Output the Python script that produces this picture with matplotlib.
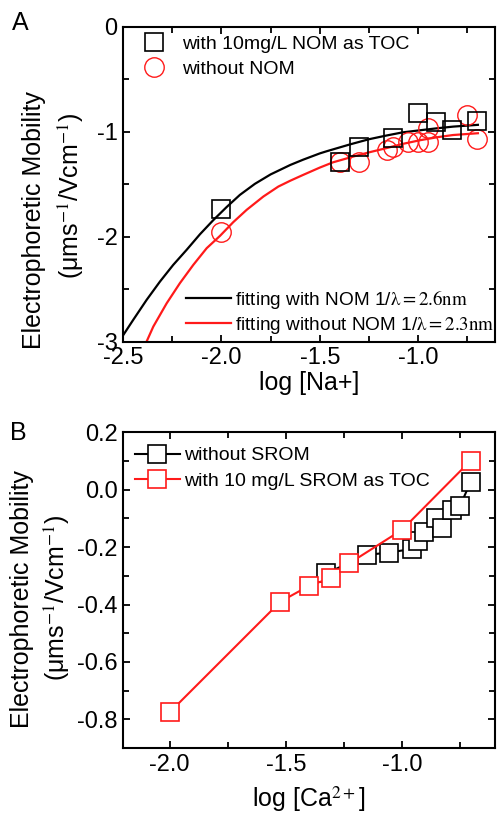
import matplotlib
matplotlib.use("Agg")
import matplotlib.pyplot as plt
from matplotlib.ticker import MultipleLocator
from matplotlib.lines import Line2D

plt.rcParams["font.family"] = ["Liberation Sans", "DejaVu Sans"]
plt.rcParams["mathtext.fontset"] = "stix"
plt.rcParams["axes.unicode_minus"] = False

# ---- panel A data: log[Na+] vs mobility
na_nom_x = [-2.0, -1.40, -1.30, -1.13, -1.00, -0.91, -0.83, -0.70]
na_nom_y = [-1.73, -1.29, -1.14, -1.06, -0.82, -0.91, -0.98, -0.90]
na_plain_x = [-2.0, -1.40, -1.30, -1.16, -1.13, -1.05, -1.00, -0.95, -0.95, -0.75, -0.70]
na_plain_y = [-1.95, -1.29, -1.29, -1.17, -1.14, -1.10, -1.10, -1.10, -0.96, -0.84, -1.07]

# fitted curves
fit_nom_x = [-2.498, -2.448, -2.380, -2.312, -2.245, -2.177, -2.109, -2.041, -1.973,
             -1.906, -1.830, -1.750, -1.650, -1.585, -1.500, -1.466, -1.348, -1.250,
             -1.162, -1.080, -0.992, -0.900, -0.823, -0.697]
fit_nom_y = [-2.933, -2.790, -2.600, -2.425, -2.267, -2.124, -1.975, -1.840, -1.715,
             -1.600, -1.495, -1.405, -1.315, -1.265, -1.205, -1.185, -1.120, -1.070,
             -1.035, -1.005, -0.985, -0.965, -0.950, -0.933]
fit_plain_x = [-2.388, -2.346, -2.278, -2.211, -2.143, -2.075, -2.007, -1.940, -1.872,
               -1.787, -1.711, -1.650, -1.585, -1.500, -1.433, -1.330, -1.250, -1.162,
               -1.080, -0.992, -0.900, -0.823, -0.697]
fit_plain_y = [-3.030, -2.854, -2.632, -2.441, -2.267, -2.108, -1.990, -1.860, -1.743,
               -1.616, -1.521, -1.465, -1.410, -1.340, -1.290, -1.235, -1.195, -1.155,
               -1.115, -1.080, -1.050, -1.030, -1.013]

# ---- panel B data: log[Ca2+] vs mobility
ca_plain_x = [-1.325, -1.150, -1.054, -0.955, -0.933, -0.905, -0.855, -0.827, -0.784, -0.751, -0.705]
ca_plain_y = [-0.291, -0.227, -0.219, -0.206, -0.180, -0.146, -0.099, -0.134, -0.070, -0.058, 0.027]
ca_srom_x = [-2.0, -1.523, -1.398, -1.305, -1.226, -1.0, -0.705]
ca_srom_y = [-0.776, -0.390, -0.334, -0.308, -0.256, -0.140, 0.101]

RED = "#ff1a1a"
TICK_FS = 17
LAB_FS = 18
LEG_FS = 14

fig = plt.figure(figsize=(4.98, 8.14), dpi=100)
axA = fig.add_axes([0.247, 0.580, 0.747, 0.387])
axB = fig.add_axes([0.247, 0.081, 0.747, 0.388])


def style_axes(ax):
    for s in ax.spines.values():
        s.set_linewidth(1.5)
    ax.tick_params(which="both", direction="in", top=True, right=True,
                   width=1.3, labelsize=TICK_FS)
    ax.tick_params(which="major", length=5, pad=4)
    ax.tick_params(which="minor", length=4)


# ---- A
axA.plot(fit_nom_x, fit_nom_y, color="black", lw=1.6, zorder=2)
axA.plot(fit_plain_x, fit_plain_y, color=RED, lw=1.6, zorder=2)
axA.plot(na_plain_x, na_plain_y, ls="none", marker="o", ms=14, mfc="none",
         mec=RED, mew=1.0, zorder=3)
axA.plot(na_nom_x, na_nom_y, ls="none", marker="s", ms=12.5, mfc="none",
         mec="black", mew=1.2, zorder=4)
axA.set_xlim(-2.5, -0.61)
axA.set_ylim(-3, 0)
axA.xaxis.set_major_locator(MultipleLocator(0.5))
axA.xaxis.set_minor_locator(MultipleLocator(0.25))
axA.yaxis.set_major_locator(MultipleLocator(1))
axA.yaxis.set_minor_locator(MultipleLocator(0.5))
axA.xaxis.set_major_formatter(plt.FormatStrFormatter("%.1f"))
axA.yaxis.set_major_formatter(plt.FormatStrFormatter("%d"))
style_axes(axA)
axA.set_xlabel("log [Na+]", fontsize=LAB_FS, labelpad=1)

h1 = [Line2D([], [], ls="none", marker="s", ms=12.5, mfc="none", mec="black", mew=1.2),
      Line2D([], [], ls="none", marker="o", ms=14, mfc="none", mec=RED, mew=1.0)]
legA1 = axA.legend(h1, ["with 10mg/L NOM as TOC", "without NOM"], loc="upper left",
                   bbox_to_anchor=(0.057, 0.974), frameon=False, fontsize=LEG_FS,
                   handlelength=1.0, handletextpad=0.95, borderpad=0, borderaxespad=0,
                   labelspacing=0.4)
axA.add_artist(legA1)
h2 = [Line2D([], [], color="black", lw=1.6), Line2D([], [], color=RED, lw=1.6)]
axA.legend(h2, [r"fitting with NOM 1/$\mathrm{\lambda=2.6nm}$",
                r"fitting without NOM 1/$\mathrm{\lambda=2.3nm}$"],
           loc="lower left", bbox_to_anchor=(0.169, 0.02), frameon=False,
           fontsize=13.7, handlelength=2.35, handletextpad=0.25, borderpad=0,
           borderaxespad=0, labelspacing=0.2)

# ---- B
axB.plot(ca_plain_x, ca_plain_y, color="black", lw=1.5, marker="s", ms=12.5,
         mfc="white", mec="black", mew=1.2, zorder=3)
axB.plot(ca_srom_x, ca_srom_y, color=RED, lw=1.5, marker="s", ms=12.5,
         mfc="white", mec=RED, mew=1.2, zorder=4)
axB.set_xlim(-2.2, -0.6)
axB.set_ylim(-0.9, 0.2)
axB.xaxis.set_major_locator(MultipleLocator(0.5))
axB.xaxis.set_minor_locator(MultipleLocator(0.25))
axB.yaxis.set_major_locator(MultipleLocator(0.2))
axB.yaxis.set_minor_locator(MultipleLocator(0.1))
axB.xaxis.set_major_formatter(plt.FormatStrFormatter("%.1f"))
axB.yaxis.set_major_formatter(plt.FormatStrFormatter("%.1f"))
style_axes(axB)
axB.set_xlabel(r"log [Ca$^{2+}$]", fontsize=LAB_FS, labelpad=6)
axB.legend(["without SROM", "with 10 mg/L SROM as TOC"], loc="upper left",
           bbox_to_anchor=(0.032, 0.954), frameon=False, fontsize=LEG_FS,
           handlelength=2.3, handletextpad=0.25, borderpad=0, borderaxespad=0,
           labelspacing=0.4)

# y labels and panel letters
fig.text(0.068, 0.730, "Electrophoretic Mobility", rotation=90, fontsize=LAB_FS,
         ha="center", va="center")
fig.text(0.143, 0.759, r"($\mathregular{\mu}$ms$^{-1}$/Vcm$^{-1}$)", rotation=90,
         fontsize=LAB_FS, ha="center", va="center")
fig.text(0.044, 0.264, "Electrophoretic Mobility", rotation=90, fontsize=LAB_FS,
         ha="center", va="center")
fig.text(0.114, 0.265, r"($\mathregular{\mu}$ms$^{-1}$/Vcm$^{-1}$)", rotation=90,
         fontsize=LAB_FS, ha="center", va="center")
fig.text(0.040, 0.972, "A", fontsize=LAB_FS, ha="center", va="center")
fig.text(0.036, 0.468, "B", fontsize=LAB_FS, ha="center", va="center")

fig.savefig("out.png", dpi=100)
